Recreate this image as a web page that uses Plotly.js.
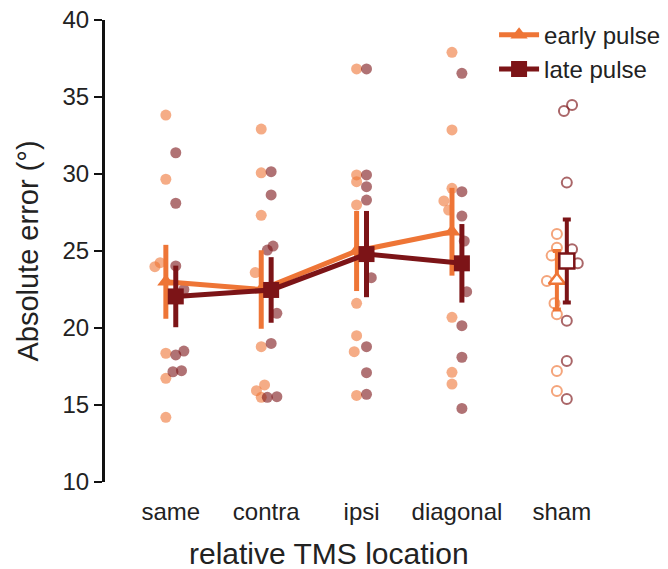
<!DOCTYPE html>
<html>
<head>
<meta charset="utf-8">
<script src="https://cdn.plot.ly/plotly-3.0.1.min.js"></script>
<style>body{margin:0;background:#fff}#chart{width:668px;height:569px}</style>
</head>
<body>
<div id="chart"></div>
<script>
// ---- data ----
const categories = ['same', 'contra', 'ipsi', 'diagonal', 'sham'];
const catPos = [0, 1, 2, 3, 4.1];

const earlyMean = [23.0, 22.5, 25.0, 26.25, 23.1];
const earlySE   = [2.4, 2.55, 2.6, 2.85, 1.9];
const lateMean  = [22.05, 22.47, 24.8, 24.2, 24.35];
const lateSE    = [2.0, 2.13, 2.8, 2.55, 2.7];

// individual subjects (per category, same order as categories)
const earlyPoints = [
  [33.83, 29.66, 24.24, 23.98, 18.36, 16.73, 14.2],
  [32.92, 30.08, 27.32, 23.6, 18.79, 16.3, 15.93, 15.5],
  [36.82, 29.94, 29.5, 27.99, 21.6, 19.5, 18.46, 15.62],
  [37.9, 32.86, 29.07, 28.25, 27.66, 20.69, 17.12, 16.36],
  [26.1, 25.21, 24.7, 23.05, 21.6, 20.89, 17.21, 15.91]
];
const earlyJitter = [
  [0, 0, -0.06, -0.115, 0, 0, 0],
  [0, 0, 0, -0.063, 0, 0.035, -0.05, 0],
  [0, 0, 0, 0, 0, 0, -0.025, 0],
  [0, 0, 0, -0.085, -0.035, 0, 0, 0],
  [0, 0, -0.055, -0.105, -0.025, 0, 0, 0]
];
const latePoints = [
  [31.38, 28.1, 24.03, 22.5, 18.5, 18.25, 17.23, 17.16],
  [30.15, 28.64, 25.32, 25.06, 20.95, 19.0, 15.54, 15.5],
  [36.82, 29.94, 29.18, 28.31, 23.27, 18.79, 17.1, 15.69],
  [36.54, 28.85, 27.27, 25.65, 22.36, 20.15, 18.1, 14.78],
  [34.48, 34.09, 29.44, 25.11, 24.2, 20.47, 17.86, 15.39]
];
const lateJitter = [
  [0, 0, 0, 0.085, 0.085, 0, 0.06, -0.03],
  [0, 0, 0.02, -0.04, 0.06, 0, 0.06, -0.04],
  [0, 0, 0, 0, 0.05, 0, 0, 0],
  [0, 0, 0, 0.025, 0.05, 0, 0, 0],
  [0.055, -0.03, 0, 0.055, 0.115, 0, 0, 0]
];
const xTitle = 'relative TMS location';
const yTitle = 'Absolute error (°)';

// ---- styling ----
const ORANGE = '#EE7536';
const DARK = '#7C1417';
const OFF = 0.052;
const FONT = 'Liberation Sans, Arial, sans-serif';
const nMain = 4;

function dotTrace(points, jitter, offset, color, open, idxs) {
  const x = [], y = [];
  idxs.forEach(i => points[i].forEach((v, k) => { x.push(catPos[i] + offset + jitter[i][k]); y.push(v); }));
  return {
    x, y, type: 'scatter', mode: 'markers', showlegend: false, hoverinfo: 'skip',
    marker: open
      ? {symbol: 'circle-open', size: 10, color: color, opacity: 0.65, line: {width: 2, color: color}}
      : {symbol: 'circle', size: 11, color: color, opacity: 0.6, line: {width: 0}}
  };
}
const mainIdx = [0, 1, 2, 3], shamIdx = [4];

const traces = [
  dotTrace(earlyPoints, earlyJitter, -OFF, ORANGE, false, mainIdx),
  dotTrace(latePoints, lateJitter, OFF, DARK, false, mainIdx),
  dotTrace(earlyPoints, earlyJitter, -OFF, ORANGE, true, shamIdx),
  dotTrace(latePoints, lateJitter, OFF, DARK, true, shamIdx),
  {
    name: 'early pulse', type: 'scatter', mode: 'lines+markers',
    x: catPos.slice(0, nMain).map(p => p - OFF), y: earlyMean.slice(0, nMain),
    line: {color: ORANGE, width: 5},
    marker: {symbol: 'triangle-up', size: 15, color: ORANGE},
    error_y: {type: 'data', array: earlySE.slice(0, nMain), color: ORANGE, thickness: 5, width: 0}
  },
  {
    name: 'late pulse', type: 'scatter', mode: 'lines+markers',
    x: catPos.slice(0, nMain).map(p => p + OFF), y: lateMean.slice(0, nMain),
    line: {color: DARK, width: 5},
    marker: {symbol: 'square', size: 16, color: DARK},
    error_y: {type: 'data', array: lateSE.slice(0, nMain), color: DARK, thickness: 5, width: 0}
  },
  {
    type: 'scatter', mode: 'markers', showlegend: false,
    x: [catPos[4] - OFF], y: [earlyMean[4]],
    marker: {symbol: 'triangle-up', size: 14, color: '#ffffff', line: {color: ORANGE, width: 2.5}},
    error_y: {type: 'data', array: [earlySE[4]], color: ORANGE, thickness: 4, width: 4}
  },
  {
    type: 'scatter', mode: 'markers', showlegend: false,
    x: [catPos[4] + OFF], y: [lateMean[4]],
    marker: {symbol: 'square', size: 15, color: '#ffffff', line: {color: DARK, width: 2.5}},
    error_y: {type: 'data', array: [lateSE[4]], color: DARK, thickness: 4, width: 4}
  }
];

const layout = {
  width: 668, height: 569,
  margin: {l: 105, r: 68, t: 20, b: 87, autoexpand: false},
  paper_bgcolor: '#fff', plot_bgcolor: '#fff',
  font: {family: FONT, size: 24, color: '#222'},
  showlegend: true,
  legend: {x: 0.786, y: 1.016, xanchor: 'left', yanchor: 'top', font: {family: FONT, size: 24, color: '#222'},
           bgcolor: 'rgba(0,0,0,0)', itemwidth: 40, tracegroupgap: 0},
  xaxis: {
    range: [-0.69, 4.5], tickvals: catPos, ticktext: categories,
    showline: false, showgrid: false, zeroline: false,
    ticks: 'outside', ticklen: 8, tickcolor: 'rgba(0,0,0,0)',
    tickfont: {family: FONT, size: 24, color: '#222'}
  },
  yaxis: {
    range: [10, 40], dtick: 5, tick0: 10,
    showline: true, linecolor: '#111', linewidth: 3, mirror: false,
    showgrid: false, zeroline: false,
    ticks: 'outside', ticklen: 8, tickwidth: 2, tickcolor: '#111',
    tickfont: {family: FONT, size: 24, color: '#222'},
    title: {text: yTitle, font: {family: FONT, size: 29, color: '#222'}, standoff: 16}
  },
  annotations: [{
    text: xTitle, xref: 'paper', yref: 'paper', x: 0.4525, y: -0.154,
    xanchor: 'center', yanchor: 'middle', showarrow: false,
    font: {family: FONT, size: 30, color: '#222'}
  }]
};

Plotly.newPlot('chart', traces, layout, {staticPlot: true, displayModeBar: false});
</script>
</body>
</html>
